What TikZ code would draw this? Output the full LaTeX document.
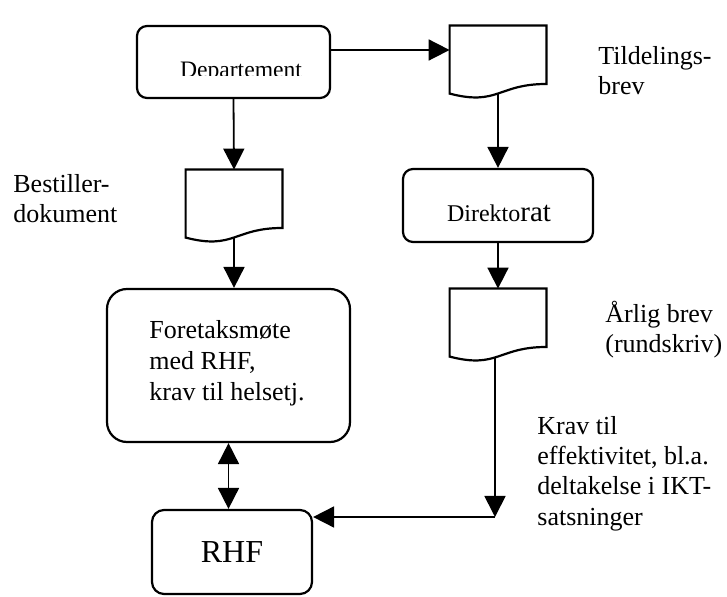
\documentclass[tikz,border=0pt]{standalone}
\usepackage{fontspec}
\setmainfont{Liberation Serif}
\usetikzlibrary{arrows.meta,calc}

% document symbol with a wavy bottom edge, drawn round an empty node
\newcommand{\docpath}[1]{%
  \draw[boxline] (#1.north west) -- (#1.north east)
    -- ($(#1.north east)!0.802!(#1.south east)$)
    .. controls ($(#1.north)!0.802!(#1.south)$) and ($(#1.north)!1.107!(#1.south)$)
    .. ($(#1.north west)!0.934!(#1.south west)$) -- cycle;
  \coordinate (#1-bot) at ($(#1.north)!0.933!(#1.south)$);}

\begin{document}
\begin{tikzpicture}[x=0.5pt, y=-0.5pt, >={Triangle[length=10.5pt,width=10.5pt]},
  font=\fontsize{13}{15}\selectfont,
  boxline/.style={line width=1.1pt},
  rbox/.style={draw, line width=1.1pt, rounded corners=5pt, inner sep=0pt},
  doc/.style={inner sep=0pt, minimum width=48pt, minimum height=36pt},
  lbl/.style={align=left, inner sep=0pt},
  conn/.style={line width=0.9pt}]

\useasboundingbox[fill=white] (0,0) rectangle (727,597);

% left column (labels sit on the baseline of their last line)
\node[rbox, minimum width=96.5pt, minimum height=36pt] (dep) at (233.5,62) {};
\begin{scope}
  \clip (dep.north west) rectangle ($(dep.south east)+(0,-24)$);
  \node[anchor=base, inner sep=0pt, font=\fontsize{11.8}{14}\selectfont] (deptext) at (241,77.6) {Departement};
\end{scope}

\node[doc] (best) at (234,206) {};
\docpath{best}
\node[lbl, anchor=base west] (bestlbl) at (13,223) {Bestiller-\\dokument};

\node[rbox, rounded corners=10pt, minimum width=121.5pt, minimum height=76.5pt] (fore) at (228.5,365.5) {};
\node[lbl, anchor=base west, font=\fontsize{13}{15.5}\selectfont] (foretext) at (149,401)
  {Foretaksmøte\\med RHF,\\krav til helsetj.};

\node[rbox, rounded corners=6pt, minimum width=80pt, minimum height=42pt,
  font=\fontsize{16}{18}\selectfont] (rhf) at (232,552) {RHF};

% right column
\node[doc] (tild) at (498,62) {};
\docpath{tild}
\node[lbl, anchor=base west] (tildlbl) at (598,95) {Tildelings-\\brev};

\node[rbox, minimum width=95pt, minimum height=36.5pt] (dir) at (498,205.5) {};
\node[anchor=base, inner sep=0pt] (dirtext) at (499,222)
  {\fontsize{12}{14}\selectfont Direkto\fontsize{14.5}{16}\selectfont rat};

\node[doc] (aar) at (498,325) {};
\docpath{aar}
\node[lbl, anchor=base west] (aarlbl) at (605,353) {Årlig brev\\(rundskriv)};

\node[lbl, anchor=base west] (kravlbl) at (537,525)
  {Krav til\\effektivitet, bl.a.\\deltakelse i IKT-\\satsninger};

% connectors
\coordinate (knee) at (495,517);
\draw[conn,->] ([yshift=6pt]dep.east) -- ([yshift=6pt]tild.west);
\draw[conn,->] (dep.south) -- (best.north);
\draw[conn,->] (best-bot) -- (best-bot |- fore.north);
\draw[conn,<->] (fore.south) -- (fore.south |- rhf.north);
\draw[conn,->] (tild-bot) -- (tild-bot |- dir.north);
\draw[conn,->] (dir.south) -- (aar.north);
\draw[conn,->] (aar-bot -| knee) -- (knee);
\draw[conn,->] (knee) -- (knee -| rhf.east);

\end{tikzpicture}
\end{document}
